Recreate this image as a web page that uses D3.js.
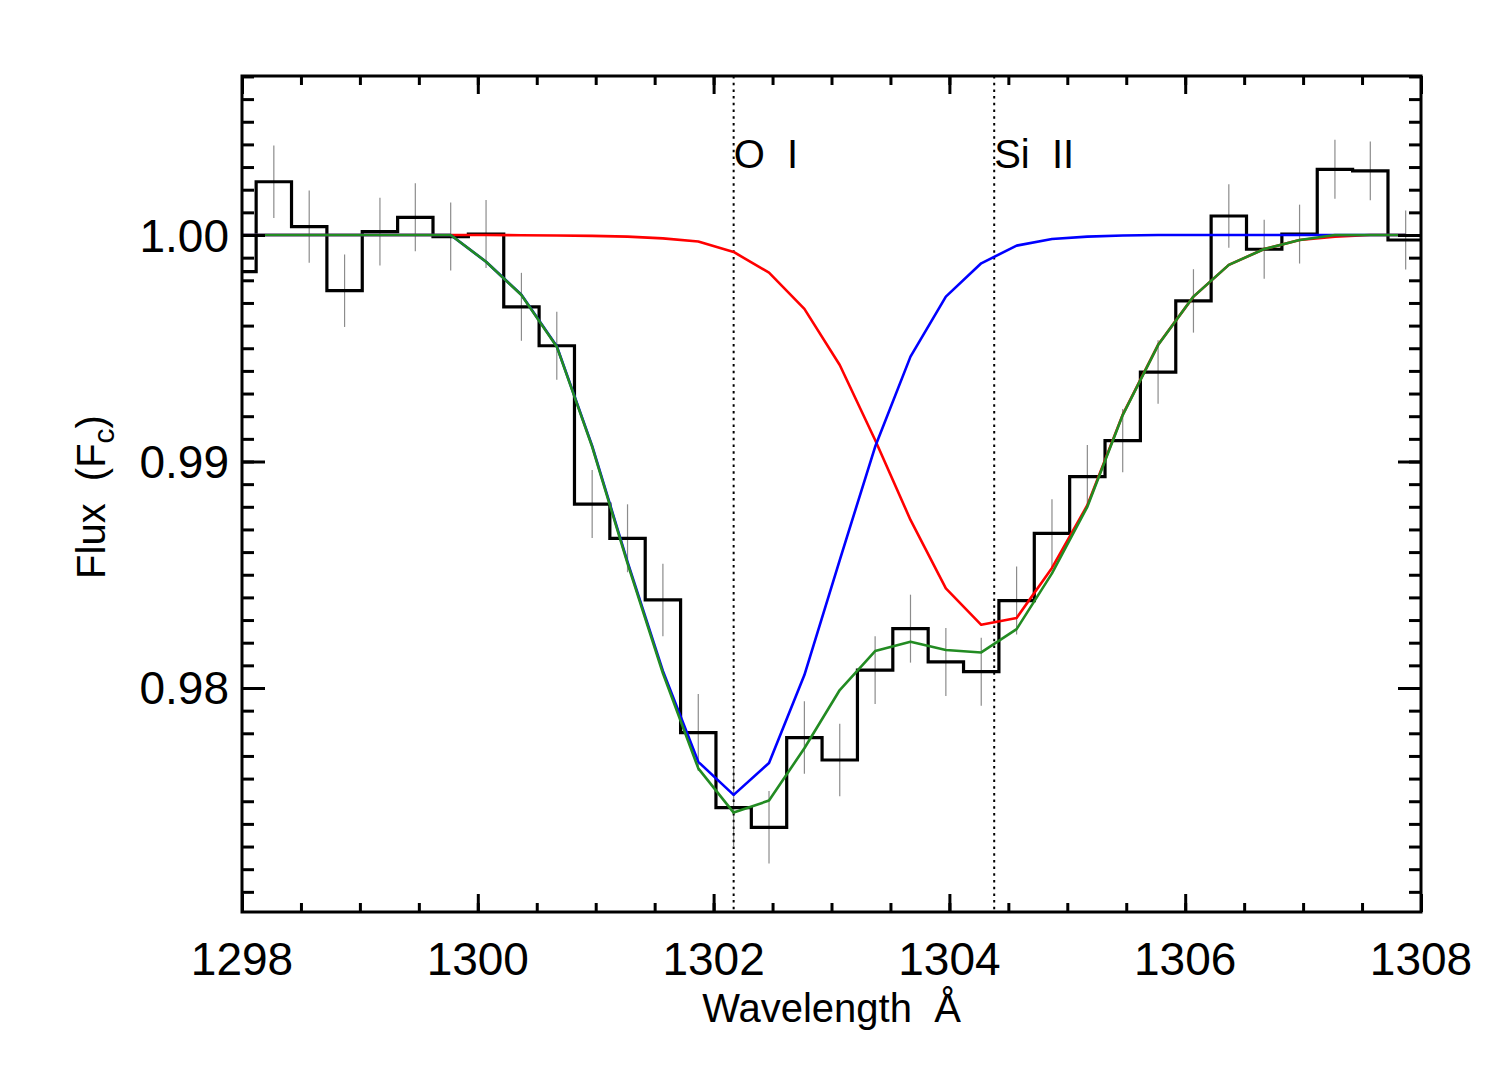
<!DOCTYPE html>
<html>
<head>
<meta charset="utf-8">
<script src="https://cdn.jsdelivr.net/npm/d3@7"></script>
<style>
  body { margin: 0; background: #fff; }
  text { font-family: "Liberation Sans", Arial, sans-serif; fill: #000; }
</style>
</head>
<body>
<div id="chart"></div>
<script>
// bin centres (Angstrom) of the spectrum
var wave = [1297.97, 1298.27, 1298.57, 1298.87, 1299.17, 1299.47, 1299.77, 1300.07, 1300.37, 1300.67,
  1300.97, 1301.27, 1301.57, 1301.87, 1302.17, 1302.47, 1302.77, 1303.07, 1303.37, 1303.67,
  1303.97, 1304.27, 1304.57, 1304.87, 1305.17, 1305.47, 1305.77, 1306.07, 1306.37, 1306.67,
  1306.97, 1307.27, 1307.57, 1307.87];

// observed normalised flux
var flux = [0.99838, 1.00235, 1.00037, 0.99754, 1.00015, 1.00078, 0.99993, 1.00004, 0.99683, 0.99511,
  0.98812, 0.98661, 0.98389, 0.97803, 0.97472, 0.97385, 0.97781, 0.97682, 0.98079, 0.98262,
  0.98115, 0.98072, 0.98386, 0.98683, 0.98933, 0.99092, 0.99395, 0.99709, 1.00084, 0.99937,
  1.00004, 1.00290, 1.00283, 0.99978];

// 1 sigma errors
var fluxErr = [0.0016, 0.0016, 0.0016, 0.0016, 0.0015, 0.0015, 0.0015, 0.0015, 0.0015, 0.0015,
  0.0015, 0.0015, 0.0016, 0.0017, 0.0017, 0.0016, 0.0016, 0.0016, 0.0015, 0.0015,
  0.0015, 0.0015, 0.0015, 0.0015, 0.0014, 0.0014, 0.0014, 0.0014, 0.0014, 0.0013,
  0.0013, 0.0013, 0.0013, 0.0013];

// Si II component model
var modelRed = [1, 1, 1, 1, 1, 1, 1, 1, 0.99999, 0.99998,
  0.99996, 0.99993, 0.99985, 0.99971, 0.99925, 0.99834, 0.99674, 0.99426, 0.99095, 0.98742,
  0.98440, 0.98279, 0.98309, 0.98530, 0.98807, 0.99207, 0.99515, 0.99728, 0.99868, 0.99938,
  0.99978, 0.99993, 1, 1];

// O I component model
var modelBlue = [1, 1, 1, 1, 1, 1, 1, 0.99882, 0.99736, 0.99509,
  0.99069, 0.98557, 0.98075, 0.97674, 0.97528, 0.97669, 0.98057, 0.98565, 0.99065, 0.99463,
  0.99728, 0.99875, 0.99953, 0.99982, 0.99993, 0.99998, 1, 1, 1, 1,
  1, 1, 1, 1];

// combined model
var modelGreen = [1, 1, 1, 1, 1, 1, 1, 0.99882, 0.99735, 0.99507,
  0.99065, 0.98550, 0.98065, 0.97645, 0.97450, 0.97503, 0.97734, 0.97991, 0.98163, 0.98204,
  0.98168, 0.98157, 0.98260, 0.98506, 0.98800, 0.99205, 0.99514, 0.99728, 0.99868, 0.99938,
  0.99978, 1, 1, 1];

var ions = [
  { name: "O I", wave: 1302.17 },
  { name: "Si II", wave: 1304.38 }
];

var xTicks = [1298, 1300, 1302, 1304, 1306, 1308];
var yTicks = [0.98, 0.99, 1.00];

var width = 1495,
  height = 1068,
  mLeft = 242, mRight = 1421, mTop = 76, mBottom = 912,
  binHalf = 0.15;

var x = d3.scaleLinear().domain([1298, 1308]).range([mLeft, mRight]);
var y = d3.scaleLinear().domain([0.97011, 1.00702]).range([mBottom, mTop]);

var svg = d3.select('#chart')
  .append('svg')
  .attr('width', width)
  .attr('height', height);

svg.append('defs').append('clipPath')
  .attr('id', 'plotclip')
  .append('rect')
  .attr('x', mLeft).attr('y', mTop)
  .attr('width', mRight - mLeft).attr('height', mBottom - mTop);

var plot = svg.append('g').attr('clip-path', 'url(#plotclip)');

var data = wave.map(function(w, i) {
  return { w: w, f: flux[i], e: fluxErr[i], r: modelRed[i], b: modelBlue[i], g: modelGreen[i] };
});

// error bars
plot.selectAll('line.err')
  .data(data)
  .enter()
  .append('line')
  .attr('class', 'err')
  .attr('x1', function(d) { return x(d.w); })
  .attr('x2', function(d) { return x(d.w); })
  .attr('y1', function(d) { return y(d.f - d.e); })
  .attr('y2', function(d) { return y(d.f + d.e); })
  .style('stroke', '#8c8c8c')
  .style('stroke-width', 1.2);

// histogram
var steps = data.map(function(d) { return [d.w - binHalf, d.f]; });
steps.push([data[data.length - 1].w + binHalf, data[data.length - 1].f]);

var stepLine = d3.line()
  .x(function(d) { return x(d[0]); })
  .y(function(d) { return y(d[1]); })
  .curve(d3.curveStepAfter);

plot.append('path')
  .datum(steps)
  .attr('d', stepLine)
  .style('fill', 'none')
  .style('stroke', '#000')
  .style('stroke-width', 3.2);

// dotted line positions
plot.selectAll('line.ion')
  .data(ions)
  .enter()
  .append('line')
  .attr('x1', function(d) { return x(d.wave); })
  .attr('x2', function(d) { return x(d.wave); })
  .attr('y1', mTop)
  .attr('y2', mBottom)
  .style('stroke', '#000')
  .style('stroke-width', 2)
  .style('stroke-dasharray', '2.5,4.2');

// models
var models = [
  { key: 'r', color: '#ff0000' },
  { key: 'b', color: '#0000ff' },
  { key: 'g', color: '#228b22' }
];
models.forEach(function(m) {
  var line = d3.line()
    .x(function(d) { return x(d.w); })
    .y(function(d) { return y(d[m.key]); });
  plot.append('path')
    .datum(data)
    .attr('d', line)
    .style('fill', 'none')
    .style('stroke', m.color)
    .style('stroke-width', 2.6)
    .style('stroke-linejoin', 'round');
});

// ion labels
svg.selectAll('text.ion')
  .data(ions)
  .enter()
  .append('text')
  .attr('x', function(d) { return x(d.wave); })
  .attr('y', 168)
  .style('font-size', '40px')
  .style('white-space', 'pre')
  .text(function(d) { return d.name.replace(' ', '  '); });

// axes: ticks on all four sides, pointing inward
function styleAxis(g) {
  g.select('.domain').remove();
  g.selectAll('.tick line').style('stroke', '#000').style('stroke-width', 3);
  g.selectAll('.tick text').remove();
}
var xMinor = d3.range(1298, 1308.01, 0.5);
var yMinor = d3.range(0.971, 1.0071, 0.001);

svg.append('g').attr('transform', 'translate(0,' + mBottom + ')')
  .call(d3.axisBottom(x).tickValues(xMinor).tickSize(-9)).call(styleAxis);
svg.append('g').attr('transform', 'translate(0,' + mBottom + ')')
  .call(d3.axisBottom(x).tickValues(xTicks).tickSize(-18)).call(styleAxis);
svg.append('g').attr('transform', 'translate(0,' + mTop + ')')
  .call(d3.axisTop(x).tickValues(xMinor).tickSize(-9)).call(styleAxis);
svg.append('g').attr('transform', 'translate(0,' + mTop + ')')
  .call(d3.axisTop(x).tickValues(xTicks).tickSize(-18)).call(styleAxis);
svg.append('g').attr('transform', 'translate(' + mLeft + ',0)')
  .call(d3.axisLeft(y).tickValues(yMinor).tickSize(-12)).call(styleAxis);
svg.append('g').attr('transform', 'translate(' + mLeft + ',0)')
  .call(d3.axisLeft(y).tickValues(yTicks).tickSize(-23)).call(styleAxis);
svg.append('g').attr('transform', 'translate(' + mRight + ',0)')
  .call(d3.axisRight(y).tickValues(yMinor).tickSize(-12)).call(styleAxis);
svg.append('g').attr('transform', 'translate(' + mRight + ',0)')
  .call(d3.axisRight(y).tickValues(yTicks).tickSize(-23)).call(styleAxis);

// frame
svg.append('rect')
  .attr('x', mLeft).attr('y', mTop)
  .attr('width', mRight - mLeft).attr('height', mBottom - mTop)
  .style('fill', 'none')
  .style('stroke', '#000')
  .style('stroke-width', 3);

// tick labels
svg.selectAll('text.xlab')
  .data(xTicks)
  .enter()
  .append('text')
  .attr('x', function(d) { return x(d); })
  .attr('y', 975)
  .attr('text-anchor', 'middle')
  .style('font-size', '46px')
  .text(function(d) { return d; });

svg.selectAll('text.ylab')
  .data(yTicks)
  .enter()
  .append('text')
  .attr('x', 229)
  .attr('y', function(d) { return y(d) + 16.5; })
  .attr('text-anchor', 'end')
  .style('font-size', '46px')
  .text(function(d) { return d.toFixed(2); });

// axis titles
svg.append('text')
  .attr('x', (mLeft + mRight) / 2)
  .attr('y', 1022)
  .attr('text-anchor', 'middle')
  .style('font-size', '40px')
  .style('white-space', 'pre')
  .text('Wavelength  Å');

var ytitle = svg.append('text')
  .attr('transform', 'translate(105,497) rotate(-90)')
  .attr('text-anchor', 'middle')
  .style('font-size', '40px')
  .style('white-space', 'pre');
ytitle.append('tspan').text('Flux  (F');
ytitle.append('tspan').attr('dy', 9).style('font-size', '30px').text('c');
ytitle.append('tspan').attr('dy', -9).text(')');
</script>
</body>
</html>
